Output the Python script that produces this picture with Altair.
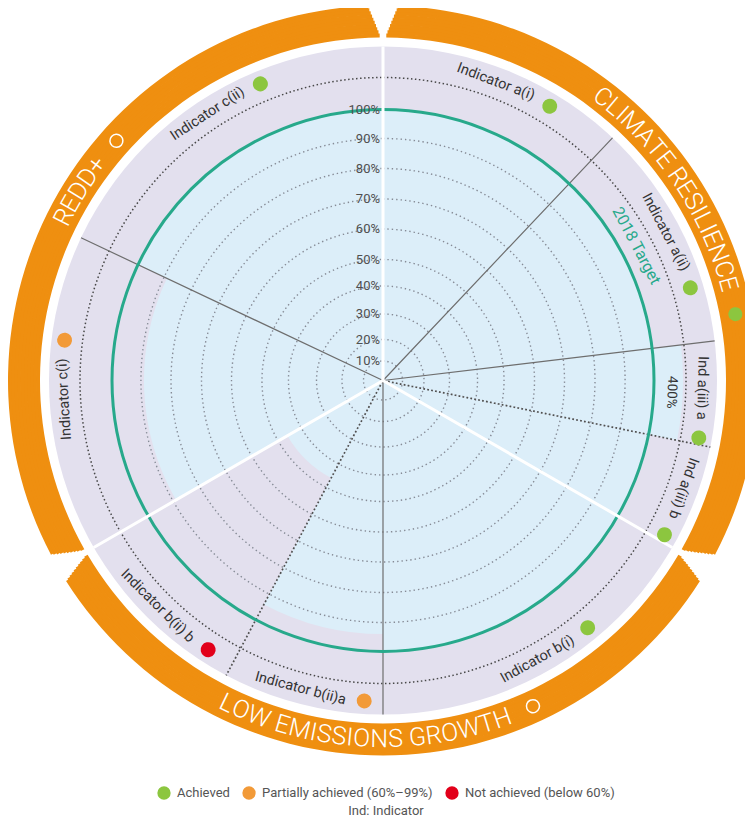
import math
import altair as alt
import pandas as pd

# ---------------- data ----------------
indicator = ["Indicator a(i)", "Indicator a(ii)", "Ind a(iii) a", "Ind a(iii) b",
             "Indicator b(i)", "Indicator b(ii)a", "Indicator b(ii) b",
             "Indicator c(i)", "Indicator c(ii)"]
parent = ["a(i)", "a(ii)", "a(iii)", "a(iii)", "b(i)", "b(ii)", "b(ii)", "c(i)", "c(ii)"]
group = ["CLIMATE RESILIENCE"] * 4 + ["LOW EMISSIONS GROWTH"] * 3 + ["REDD+"] * 2
sector_deg = [43.4, 39.8, 18.3, 18.5, 60.0, 28.0, 32.0, 55.3, 64.7]
achieved_pct = [100, 100, 400, 100, 100, 94, 46, 89, 100]
group_names = ["CLIMATE RESILIENCE", "LOW EMISSIONS GROWTH", "REDD+"]
group_rating = ["Achieved", "", ""]
ring_pct = [10, 20, 30, 40, 50, 60, 70, 80, 90, 100]
status_names = ["Achieved", "Partially achieved (60%–99%)", "Not achieved (below 60%)"]
target_label = "2018 Target"
note_label = "Ind: Indicator"

# ---------------- layout / style ----------------
W, H = 737, 814
CX, CY = 375, 372.5
RING_PX = [0, 19.5, 41, 66.5, 94.5, 121, 151.5, 181.5, 212, 242, 271]
TITLE_SHIFT_DEG = [-4, 3, 2]


def u(px):
    """radius value (scale units) for a ring beyond the 100% circle"""
    return 100 + (px - 271)


RAD = alt.Scale(type="linear", domain=[0] + ring_pct + [250],
                range=RING_PX + [271 + 150], nice=False, zero=False)
THETA = alt.Scale(type="linear", domain=[0, 360], range=[0, 2 * math.pi],
                  nice=False, zero=False)

ORANGE = "#EF8F10"
LAV = "#E3E0EE"
BLUE = "#DCEEF9"
TEAL = "#27A98B"
GREEN = "#8CC63F"
ORANGE_DOT = "#F29A38"
RED = "#E2001A"
FONT = "Roboto"

CW = {'A': .652, 'B': .623, 'C': .651, 'D': .656, 'E': .568, 'F': .553, 'G': .681, 'H': .713,
      'I': .272, 'J': .552, 'K': .627, 'L': .539, 'M': .873, 'N': .713, 'O': .688, 'P': .631,
      'Q': .688, 'R': .616, 'S': .593, 'T': .597, 'U': .648, 'V': .636, 'W': .887, 'X': .627,
      'Y': .601, 'Z': .599, 'a': .544, 'b': .561, 'c': .523, 'd': .563, 'e': .529, 'f': .347,
      'g': .561, 'h': .551, 'i': .243, 'j': .239, 'k': .507, 'l': .243, 'm': .876, 'n': .552,
      'o': .570, 'p': .561, 'q': .568, 'r': .338, 's': .516, 't': .327, 'u': .551, 'v': .484,
      'w': .751, 'x': .496, 'y': .473, 'z': .496, ' ': .248, '(': .342, ')': .348, '%': .733,
      '+': .567, ':': .242}


def cw(c):
    if c.isdigit():
        return .561
    return CW.get(c, .56)


def text_w(s, size):
    return sum(cw(c) for c in s) * size


def reads_clockwise(theta):
    return not (115 < theta < 250)


def status_of(v):
    if v >= 100:
        return status_names[0]
    if v >= 60:
        return status_names[1]
    return status_names[2]


# ---------------- derived tables ----------------
n = len(indicator)
starts, acc = [], 0.0
for s in sector_deg:
    starts.append(acc)
    acc += s
ends = [a + s for a, s in zip(starts, sector_deg)]
mids = [(a + b) / 2 for a, b in zip(starts, ends)]

sectors = pd.DataFrame({"indicator": indicator, "t0": starts, "t1": ends,
                        "value": achieved_pct})

disk = pd.DataFrame({"t0": [0], "t1": [360], "r": [u(334)]})

group_start = {g: min(a for a, gg in zip(starts, group) if gg == g) for g in group_names}
group_end = {g: max(b for b, gg in zip(ends, group) if gg == g) for g in group_names}

# orange group bands, built from thin concentric strips so the gaps open outward
NB, R_IN, R_OUT = 10, 343, 375
GAP_IN, GAP_OUT = 0.45, 2.4
band_rows = []
step = (R_OUT - R_IN) / NB
for g in group_names:
    for k in range(NB):
        frac = (k + 0.5) / NB
        half_gap = GAP_IN + (GAP_OUT - GAP_IN) * frac
        r0 = R_IN + k * step
        r1 = min(R_OUT, r0 + step + 0.8)
        band_rows.append({"t0": group_start[g] + half_gap, "t1": group_end[g] - half_gap,
                          "r0": u(r0), "r1": u(r1)})
bands = pd.DataFrame(band_rows)

rings = pd.DataFrame({"t0": 0, "t1": 360, "r": ring_pct[:-1]})
label_ring = pd.DataFrame({"t0": [0], "t1": [360], "r": [u(303)]})
target_ring = pd.DataFrame({"t0": [0], "t1": [360], "r": [100]})

line_rows = []
for i in range(n):
    p = (i - 1) % n
    if group[i] != group[p]:
        kind = "white"
    elif parent[i] == parent[p]:
        kind = "dotted"
    else:
        kind = "solid"
    line_rows.append({"t": starts[i], "kind": kind, "r": u(334)})
lines = pd.DataFrame(line_rows)

pct_labels = pd.DataFrame({"t": 0, "r": ring_pct, "text": [f"{p}%" for p in ring_pct]})

LABEL_FS = 14.5
R_LAB = 319
lab_rows, dot_rows, over_rows = [], [], []
for i in range(n):
    m = mids[i]
    c = reads_clockwise(m)
    d = 1 if c else -1
    tc = m - d * 1.0
    tw = text_w(indicator[i], LABEL_FS)
    lab_rows.append({"t": tc, "r": u(R_LAB), "ang": (tc if c else tc - 180) % 360,
                     "text": indicator[i]})
    dc = tc + d * math.degrees((tw / 2 + 18) / R_LAB)
    half = math.degrees(7.5 / 321)
    dot_rows.append({"t0": dc - half, "t1": dc + half, "r0": u(321 - 7.5),
                     "r1": u(321 + 7.5), "status": status_of(achieved_pct[i])})
    if achieved_pct[i] > 100:
        over_rows.append({"t": m, "r": u(289), "ang": m % 360,
                          "text": f"{achieved_pct[i]}%"})
labels = pd.DataFrame(lab_rows)
over = pd.DataFrame(over_rows)

TITLE_FS = 25
R_T = 358.5
char_rows, open_rows = [], []
for g, rating, shift in zip(group_names, group_rating, TITLE_SHIFT_DEG):
    m = (group_start[g] + group_end[g]) / 2 + shift
    c = reads_clockwise(m)
    d = 1 if c else -1
    widths = [cw(ch) * TITLE_FS for ch in g]
    total = sum(widths)
    pos = -total / 2
    for ch, w in zip(g, widths):
        centre = pos + w / 2
        pos += w
        if ch == " ":
            continue
        th = m + d * math.degrees(centre / R_T)
        char_rows.append({"t": th, "r": u(R_T), "ang": (th if c else th - 180) % 360,
                          "text": ch})
    mk = m + d * math.degrees((total / 2 + 24) / R_T)
    if rating:
        half = math.degrees(7 / R_T)
        dot_rows.append({"t0": mk - half, "t1": mk + half, "r0": u(R_T - 7),
                         "r1": u(R_T + 7), "status": rating})
    else:
        half = math.degrees(6.5 / R_T)
        open_rows.append({"t0": mk - half, "t1": mk + half, "r0": u(R_T - 6.5),
                          "r1": u(R_T + 6.5)})
chars = pd.DataFrame(char_rows)
dots = pd.DataFrame(dot_rows)
opens = pd.DataFrame(open_rows)

target_txt = pd.DataFrame({"t": [62], "r": [u(287)], "ang": [62], "text": [target_label]})

# ---------------- chart ----------------
POS = dict(x=alt.value(CX), y=alt.value(CY))


def arc_enc(t0="t0", t1="t1", r="r", r2=None):
    enc = dict(theta=alt.Theta(f"{t0}:Q", scale=THETA, stack=False),
               theta2=alt.Theta2(f"{t1}:Q"),
               radius=alt.Radius(f"{r}:Q", scale=RAD), **POS)
    if r2:
        enc["radius2"] = alt.Radius2(f"{r2}:Q")
    return enc


def text_enc(with_angle=True):
    enc = dict(theta=alt.Theta("t:Q", scale=THETA, stack=False),
               radius=alt.Radius("r:Q", scale=RAD), text="text:N", **POS)
    if with_angle:
        enc["angle"] = alt.Angle("ang:Q", scale=None)
    return enc


lav_layer = alt.Chart(disk).mark_arc(color=LAV).encode(**arc_enc())
band_layer = alt.Chart(bands).mark_arc(color=ORANGE).encode(**arc_enc(r="r1", r2="r0"))
bar_layer = alt.Chart(sectors).transform_calculate(
    shown=f"min(datum.value, {u(300)})"
).mark_arc(color=BLUE).encode(**arc_enc(r="shown"))

ring_layer = alt.Chart(rings).mark_arc(
    fill="transparent", stroke="#868b96", strokeWidth=1.4, strokeDash=[1.4, 3.0]
).encode(**arc_enc())
label_ring_layer = alt.Chart(label_ring).mark_arc(
    fill="transparent", stroke="#474747", strokeWidth=1.5, strokeDash=[1.5, 2.5]
).encode(**arc_enc())

solid_layer = alt.Chart(lines).transform_filter("datum.kind == 'solid'").mark_arc(
    fill="transparent", stroke="#6e6e6e", strokeWidth=1.2
).encode(**arc_enc(t0="t", t1="t"))
# the radial path runs out and back, so a 4px period lines the dots up on both passes
dotted_layer = alt.Chart(lines).transform_filter("datum.kind == 'dotted'").mark_arc(
    fill="transparent", stroke="#505050", strokeWidth=1.7, strokeDash=[0.9, 3.1]
).encode(**arc_enc(t0="t", t1="t"))
target_layer = alt.Chart(target_ring).mark_arc(
    fill="transparent", stroke=TEAL, strokeWidth=3
).encode(**arc_enc())
white_layer = alt.Chart(lines).transform_filter("datum.kind == 'white'").mark_arc(
    fill="transparent", stroke="white", strokeWidth=3
).encode(**arc_enc(t0="t", t1="t"))

pct_layer = alt.Chart(pct_labels).mark_text(
    font=FONT, fontSize=13, color="#4f4f4f", align="right", baseline="middle", dx=-3
).encode(**text_enc(with_angle=False))
label_layer = alt.Chart(labels).mark_text(
    font=FONT, fontSize=LABEL_FS, color="#333333", align="center", baseline="middle"
).encode(**text_enc())
over_layer = alt.Chart(over).mark_text(
    font=FONT, fontSize=13.5, color="#333333", align="center", baseline="middle"
).encode(**text_enc())
target_txt_layer = alt.Chart(target_txt).mark_text(
    font=FONT, fontSize=16, color=TEAL, align="center", baseline="middle"
).encode(**text_enc())
title_layer = alt.Chart(chars).mark_text(
    font=FONT, fontSize=TITLE_FS, fontWeight=300, color="white", align="center",
    baseline="middle"
).encode(**text_enc())

dot_layer = alt.Chart(dots).mark_arc(cornerRadius=20).encode(
    fill=alt.Fill("status:N",
                  scale=alt.Scale(domain=status_names, range=[GREEN, ORANGE_DOT, RED]),
                  legend=alt.Legend(
                      orient="none", legendX=149, legendY=778, direction="horizontal",
                      title=note_label, titleOrient="bottom", titleAnchor="middle",
                      titleFont=FONT, titleFontSize=13, titleFontWeight="normal",
                      titleColor="#555555", titlePadding=5,
                      labelFont=FONT, labelFontSize=13, labelColor="#555555",
                      labelLimit=400, labelOffset=6, columnPadding=12,
                      symbolType="circle", symbolSize=177, symbolStrokeWidth=0)),
    **arc_enc(r="r1", r2="r0")
)
open_layer = alt.Chart(opens).mark_arc(
    cornerRadius=20, fill="transparent", stroke="white", strokeWidth=1.5
).encode(**arc_enc(r="r1", r2="r0"))

chart = alt.layer(
    lav_layer, band_layer, bar_layer, ring_layer, label_ring_layer, solid_layer,
    dotted_layer, target_layer, white_layer, pct_layer, label_layer, over_layer,
    target_txt_layer, title_layer, dot_layer, open_layer
).properties(
    width=W, height=H, padding=0,
    autosize=alt.AutoSizeParams(type="none"),
    background="white"
).configure_view(stroke=None)

chart.save("out.html", embed_options={"renderer": "svg", "actions": False})
